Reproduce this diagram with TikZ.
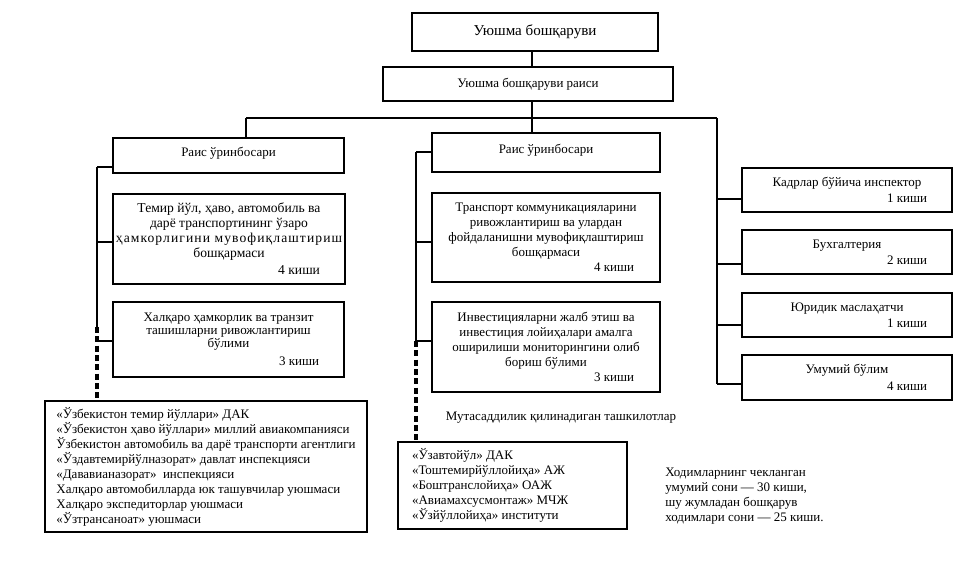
\documentclass[tikz,border=0pt]{standalone}
\usepackage{fontspec}
\setmainfont{Liberation Serif}
\newcommand\fnt{\fontsize{9.75pt}{11.25pt}\selectfont}
\newcommand\fntl{\fontsize{10.2pt}{11.25pt}\selectfont}
\newcommand\fntc{\fontsize{9.75pt}{9.5pt}\selectfont}
\newcommand\fntb{\fontsize{11.3pt}{13pt}\selectfont}
\newcommand\kishi[3][0pt]{\\[#1]\makebox[#2][r]{#3~киши}}
\begin{document}
\begin{tikzpicture}[x=0.75pt,y=-0.75pt,
  box/.style={draw, line width=0.9pt, inner sep=0pt, align=center, font=\fnt},
  lst/.style={draw, line width=0.9pt, inner sep=0pt, align=flush left, font=\fnt},
  conn/.style={line width=0.9pt},
  dconn/.style={line width=2.4pt, dash pattern=on 4.5pt off 2.5pt},
  txt/.style={inner sep=0pt, font=\fnt, align=flush left}]
\useasboundingbox (0,0) rectangle (959,564);

% top
\node[box, font=\fntb, minimum width=184.5pt, minimum height=28.5pt] (B1) at (535,32) {Уюшма бошқаруви};
\node[box, minimum width=217.5pt, minimum height=25.5pt] (B2) at (528,84) {Уюшма бошқаруви раиси};

% left column
\node[box, minimum width=173.25pt, minimum height=26.25pt, text depth=6pt] (L1) at (228.5,155.5) {Раис ўринбосари};
\node[box, font=\fntl, minimum width=174pt, minimum height=67.5pt] (L2) at (229,239) {Темир йўл, ҳаво, автомобиль ва\\дарё транспортининг ўзаро\\{\addfontfeature{LetterSpace=8}ҳамкорлигини мувофиқлаштириш}\\бошқармаси\kishi[1.5pt]{136.5pt}{4}};
\node[box, font=\fntc, minimum width=173.25pt, minimum height=56.25pt] (L3) at (228.5,339.5) {Халқаро ҳамкорлик ва транзит\\ташишларни ривожлантириш\\бўлими\kishi[4.5pt]{135.75pt}{3}};
\node[lst, minimum width=241.5pt, minimum height=98.25pt] (LB) at (206,466.5) {«Ўзбекистон темир йўллари» ДАК\\«Ўзбекистон ҳаво йўллари» миллий авиакомпанияси\\Ўзбекистон автомобиль ва дарё транспорти агентлиги\\«Ўздавтемирйўлназорат» давлат инспекцияси\\«Дававианазорат»\ \ инспекцияси\\Халқаро автомобилларда юк ташувчилар уюшмаси\\Халқаро экспедиторлар уюшмаси\\«Ўзтрансаноат» уюшмаси};

% middle column
\node[box, minimum width=171pt, minimum height=29.25pt, text depth=6pt] (M1) at (546,152.5) {Раис ўринбосари};
\node[box, minimum width=171pt, minimum height=66.75pt] (M2) at (546,237.5) {Транспорт коммуникацияларини\\ривожлантириш ва улардан\\фойдаланишни мувофиқлаштириш\\бошқармаси\kishi{132pt}{4}};
\node[box, minimum width=171pt, minimum height=67.5pt] (M3) at (546,347) {Инвестицияларни жалб этиш ва\\инвестиция лойиҳалари амалга\\оширилиши мониторингини олиб\\бориш бўлими\kishi{132pt}{3}};
\node[inner sep=0pt, font=\fnt] (mut) at (561,418) {Мутасаддилик қилинадиган ташкилотлар};
\node[lst, text width=150.75pt, inner xsep=10.5pt, minimum height=65.25pt] (MB) at (512.5,485.5) {«Ўзавтойўл» ДАК\\«Тоштемирйўллойиҳа» АЖ\\«Боштранслойиҳа» ОАЖ\\«Авиамахсусмонтаж» МЧЖ\\«Ўзйўллойиҳа» институти};

% right column
\node[box, minimum width=157.5pt, minimum height=33pt] (R1) at (847,190) {Кадрлар бўйича инспектор\kishi[1pt]{120pt}{1}};
\node[box, minimum width=157.5pt, minimum height=33pt] (R2) at (847,252) {Бухгалтерия\kishi[1pt]{120pt}{2}};
\node[box, minimum width=157.5pt, minimum height=33pt] (R3) at (847,315) {Юридик маслаҳатчи\kishi[1pt]{120pt}{1}};
\node[box, minimum width=157.5pt, minimum height=33.75pt] (R4) at (847,377.5) {Умумий бўлим\kishi[1pt]{120pt}{4}};

\node[txt, anchor=north west] (note) at (665,468) {Ходимларнинг чекланган\\умумий сони — 30 киши,\\шу жумладан бошқарув\\ходимлари сони — 25 киши.};

% connectors
\coordinate (jT) at (532,118);
\coordinate (jL) at (246,118);
\coordinate (jR) at (717,118);
\draw[conn] (B1.south -| jT) -- (B2.north -| jT);
\draw[conn] (B2.south -| jT) -- (M1.north -| jT);
\draw[conn] (jL) -- (jR);
\draw[conn] (jL) -- (L1.north -| jL);

\coordinate (rA) at (717,199);
\coordinate (rB) at (717,264);
\coordinate (rC) at (717,325);
\coordinate (rD) at (717,384);
\draw[conn] (jR) -- (rD);
\draw[conn] (rA) -- (R1.west |- rA);
\draw[conn] (rB) -- (R2.west |- rB);
\draw[conn] (rC) -- (R3.west |- rC);
\draw[conn] (rD) -- (R4.west |- rD);

\coordinate (lA) at (97,167);
\coordinate (lB) at (97,242);
\coordinate (lC) at (97,341);
\coordinate (lD) at (97,327);
\draw[conn] (lA) -- (lD);
\draw[dconn] (lD) -- (LB.north -| lD);
\draw[conn] (lA) -- (L1.west |- lA);
\draw[conn] (lB) -- (L2.west |- lB);
\draw[conn] (lC) -- (L3.west |- lC);

\coordinate (mA) at (416,152);
\coordinate (mB) at (416,242);
\coordinate (mC) at (416,341);
\draw[conn] (mA) -- (mC);
\draw[dconn] (mC) -- (MB.north -| mC);
\draw[conn] (mA) -- (M1.west |- mA);
\draw[conn] (mB) -- (M2.west |- mB);
\draw[conn] (mC) -- (M3.west |- mC);
\end{tikzpicture}
\end{document}
